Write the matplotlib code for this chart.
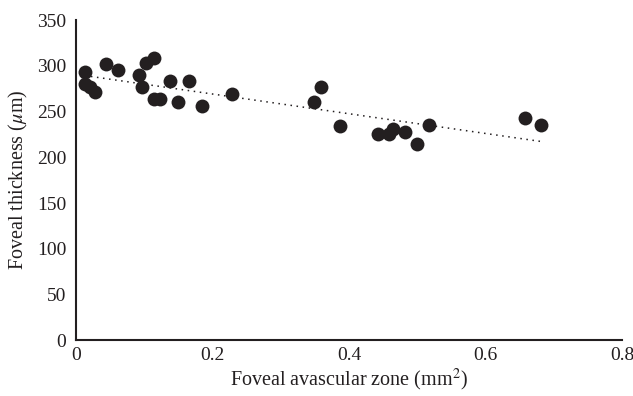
import numpy as np
import matplotlib
matplotlib.use("Agg")
import matplotlib.pyplot as plt

plt.rcParams["font.family"] = ["Liberation Serif", "DejaVu Serif"]
plt.rcParams["mathtext.fontset"] = "stix"

# Foveal avascular zone (mm^2) vs foveal thickness (um)
faz = [0.013, 0.013, 0.020, 0.028, 0.044, 0.062, 0.092, 0.097, 0.103, 0.114,
       0.114, 0.123, 0.138, 0.149, 0.166, 0.184, 0.229, 0.349, 0.359, 0.387,
       0.443, 0.459, 0.465, 0.482, 0.499, 0.517, 0.658, 0.681]
thickness = [293, 280, 277, 271, 302, 295, 290, 277, 303, 309,
             264, 264, 284, 261, 284, 256, 269, 260, 277, 234,
             226, 226, 231, 228, 215, 235, 243, 235]

xticks = [0, 0.2, 0.4, 0.6, 0.8]
yticks = [0, 50, 100, 150, 200, 250, 300, 350]

fig = plt.figure(figsize=(6.33, 3.96), dpi=100)
ax = fig.add_axes([0.12, 0.141, 0.863, 0.808])

x = np.array(faz)
y = np.array(thickness)
ax.scatter(x, y, s=100, color="#231f20", zorder=3, linewidths=0)

# linear trendline
k, b = np.polyfit(x, y, 1)
xl = np.array([x.min(), x.max()])
ax.plot(xl, k * xl + b, linestyle=(0, (1, 3)), color="#231f20", linewidth=1.1)

ax.set_xlim(0, 0.8)
ax.set_ylim(0, 350)
ax.set_xticks(xticks)
ax.set_xticklabels([f"{t:g}" for t in xticks])
ax.set_yticks(yticks)
ax.tick_params(length=0, labelsize=14, colors="#231f20")
ax.tick_params(axis="y", pad=7)
ax.tick_params(axis="x", pad=5)
for s in ("top", "right"):
    ax.spines[s].set_visible(False)
for s in ("left", "bottom"):
    ax.spines[s].set_linewidth(1.5)
    ax.spines[s].set_color("#231f20")

ax.set_xlabel("Foveal avascular zone (mm$^2$)", fontsize=14.5, color="#231f20", labelpad=2)
ax.set_ylabel("Foveal thickness ($\\mu$m)", fontsize=14.5, color="#231f20", labelpad=5)

fig.savefig("out.png", dpi=100)
